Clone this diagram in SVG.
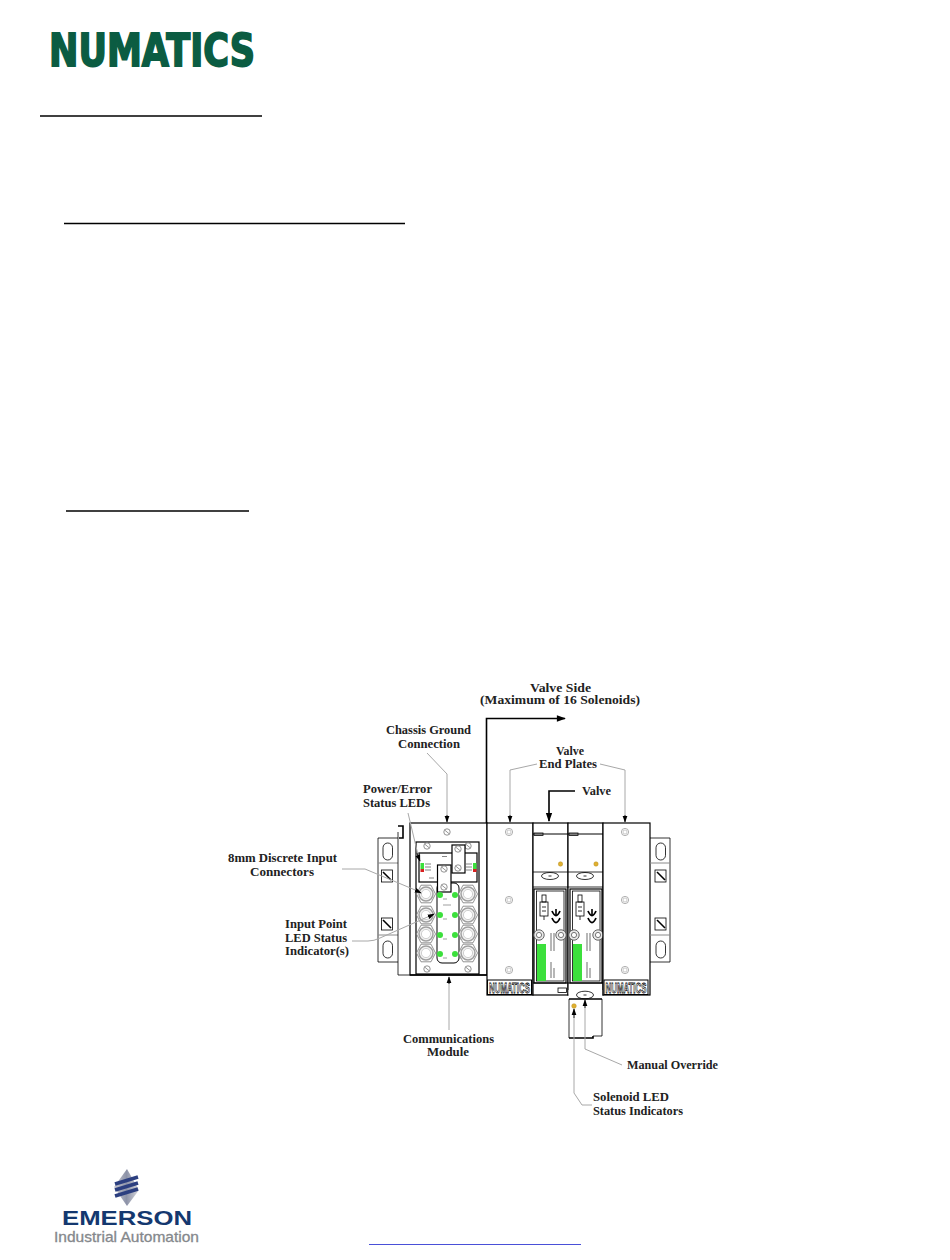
<svg xmlns="http://www.w3.org/2000/svg" width="950" height="1260" viewBox="0 0 950 1260">
<style>
.lb{font-family:"Liberation Serif","Times New Roman",serif;font-weight:bold;font-size:12.5px;fill:#222}
.k{fill:none;stroke:#000;stroke-width:1.6}
.t{fill:none;stroke:#000;stroke-width:.8}
.w{fill:#fff;stroke:#000;stroke-width:1.2}
.ld{fill:none;stroke:#a8a8a8;stroke-width:1}
.bar{stroke:#000;stroke-width:1.4}
.gl{fill:#3ce03c}
.yl{fill:#e0b030;stroke:#b89020;stroke-width:.5}
.sc{fill:#fff;stroke:#999;stroke-width:.8}
.bl{font-family:"Liberation Sans",Arial,sans-serif;font-weight:bold;font-size:15px;fill:#fff;stroke:#000;stroke-width:.8}
.tx{stroke:#8a8a8a;stroke-width:1;fill:none}
</style>
<defs>
<marker id="a" viewBox="0 0 10 10" refX="9" refY="5" markerWidth="7" markerHeight="7" orient="auto" markerUnits="userSpaceOnUse"><path d="M0 1.500L10 5L0 8.500z" fill="#000"/></marker>
<marker id="b" viewBox="0 0 10 10" refX="9" refY="5" markerWidth="11" markerHeight="9" orient="auto" markerUnits="userSpaceOnUse"><path d="M0 1.500L10 5L0 8.500z" fill="#000"/></marker>
<linearGradient id="dm" x1="0" y1="0" x2="1" y2="0"><stop offset="0" stop-color="#c8c8d0"/><stop offset=".5" stop-color="#8d93a8"/><stop offset="1" stop-color="#d8d8dc"/></linearGradient>
<g id="scr"><circle r="3.600" class="sc"/><circle r="2" fill="none" stroke="#aaa" stroke-width=".6"/></g>
<g id="hex"><circle r="3.200" fill="#fff" stroke="#666" stroke-width=".7"/><path d="M-2.200-1.800L2.200 1.800" stroke="#666" stroke-width=".7"/></g>
<g id="con"><path d="M-5-8.800H5L9.500 0L5 8.800H-5L-9.500 0z" fill="#fff" stroke="#666" stroke-width=".7"/><circle r="7" fill="#f2f2f2" stroke="#a0a0a0" stroke-width="1.500"/><circle r="4.600" fill="#fff" stroke="#c4c4c4" stroke-width=".8"/></g>
<g id="bsc"><circle r="5.200" fill="#e8e8e8" stroke="#555" stroke-width=".9"/><circle r="2.600" fill="#fff" stroke="#777" stroke-width="1"/></g>
</defs>

<g id="numatics-logo">
<text x="49" y="65.500" font-family="'DejaVu Sans',Arial,sans-serif" font-weight="bold" font-size="44" fill="#0b5c42" stroke="#0b5c42" stroke-width="1.800" textLength="206" lengthAdjust="spacingAndGlyphs">NUMATICS</text>
</g>

<g id="heading-rules">
<line x1="40" y1="116" x2="262" y2="116" class="bar"/>
<line x1="64" y1="223.500" x2="405" y2="223.500" class="bar"/>
<line x1="66" y1="511" x2="249" y2="511" class="bar"/>
<line x1="369" y1="1244.500" x2="581" y2="1244.500" stroke="#4a50d8" stroke-width="1.200"/>
</g>

<g id="left-mount">
<path d="M398 838H378V962H398" class="t" stroke="#555"/>
<path d="M378 863H398M378 935H398" class="tx"/>
<rect x="383" y="843" width="9.500" height="17" rx="4.700" class="t"/>
<rect x="381.500" y="870" width="11" height="12" class="t"/><path d="M383 872L391 880" class="k" stroke-width="1"/>
<rect x="381.500" y="918" width="11" height="12" class="t"/><path d="M383 920L391 928" class="k" stroke-width="1"/>
<rect x="383" y="941" width="9.500" height="17" rx="4.700" class="t"/>
<path d="M398 832V975H410" class="t"/>
<path d="M398 826H403V838H399" class="k"/>
</g>

<g id="communications-module">
<rect x="410" y="823" width="77" height="152" class="w"/>
<path d="M410 975H487" class="k"/>
<rect x="416" y="842" width="63" height="132" class="w"/>
<use href="#hex" x="447" y="832"/>
<use href="#hex" x="427" y="846"/><use href="#hex" x="468" y="846"/>
<use href="#hex" x="427" y="969"/><use href="#hex" x="468" y="969"/>
<rect x="419" y="853" width="58" height="29" class="w"/>
<rect x="420.500" y="863" width="3.500" height="3" class="gl"/><rect x="420.500" y="866" width="3.500" height="3" class="gl"/><rect x="420.500" y="869" width="3.500" height="3" fill="#d82020"/>
<rect x="473" y="863" width="3.500" height="3" class="gl"/><rect x="473" y="866" width="3.500" height="3" class="gl"/><rect x="473" y="869" width="3.500" height="3" fill="#d82020"/>
<path d="M425 864H431M425 867H431M425 870H431M466 864H472M466 867H472M466 870H472M442 856.500H447M429 878H434" stroke="#666" stroke-width=".8"/>
<rect x="437" y="883" width="22" height="80" rx="5" fill="#fff" stroke="#000"/>
<rect x="452" y="845" width="13" height="28" class="w"/><use href="#hex" x="458" y="849"/><use href="#hex" x="458" y="868"/>
<rect x="437.500" y="865" width="13.500" height="27" class="w"/><use href="#hex" x="444" y="869"/><use href="#hex" x="444" y="887"/>
<use href="#con" x="426" y="894"/><use href="#con" x="468" y="894"/>
<use href="#con" x="426" y="915"/><use href="#con" x="468" y="915"/>
<use href="#con" x="426" y="934"/><use href="#con" x="468" y="934"/>
<use href="#con" x="426" y="953"/><use href="#con" x="468" y="953"/>
<circle cx="440" cy="895" r="3" class="gl"/><circle cx="455" cy="895" r="3" class="gl"/>
<circle cx="440" cy="915" r="3" class="gl"/><circle cx="455" cy="915" r="3" class="gl"/>
<circle cx="440" cy="935" r="3" class="gl"/><circle cx="455" cy="935" r="3" class="gl"/>
<circle cx="440" cy="954" r="3" class="gl"/><circle cx="455" cy="954" r="3" class="gl"/>
<path d="M443 899H447M458 899H461M443 919H447M458 919H461M443 939H447M458 939H461M443 958H447M458 958H461M443 905H451" stroke="#777" stroke-width=".7"/>
</g>

<g id="left-end-plate">
<rect x="487" y="823" width="46" height="172" class="w"/>
<use href="#scr" x="509" y="832"/><use href="#scr" x="509" y="900"/><use href="#scr" x="509" y="970"/>
<rect x="487.500" y="980" width="44" height="14.500" fill="#fff" stroke="#000"/>
<text class="bl" x="489" y="992.800" textLength="41" lengthAdjust="spacingAndGlyphs">NUMATICS</text>
</g>

<g id="valve-1">
<rect x="533" y="823" width="35" height="172" class="w"/>
<path d="M533 834H568" stroke="#000"/><rect x="534" y="833" width="9" height="2.500" class="t"/>
<path d="M533 872H568M533 887H568" class="t"/>
<ellipse cx="550" cy="876" rx="8.500" ry="3.500" class="t"/><path d="M548.500 876H551.500" class="t"/>
<circle cx="560.500" cy="864" r="2.200" class="yl"/>
<rect x="534" y="889" width="32" height="94" class="w"/><rect x="536.500" y="891" width="27.500" height="90" class="t"/>
<rect x="542" y="895" width="4" height="7" class="t"/><rect x="540" y="902" width="8" height="14" class="t"/><path d="M542 907H546M542 911H546M544 916V920" class="t"/>
<path d="M552 911Q556 920 560 911M552 918Q556 927 560 918" fill="none" stroke="#000" stroke-width="1.800"/><path d="M556 909V916" class="k"/>
<rect x="537" y="944" width="9" height="37" class="gl"/>
<path d="M551 933V951M554 933V951M551 962V978M554 968V978" stroke="#888" stroke-width="1.200"/>
<use href="#bsc" x="539" y="935"/><use href="#bsc" x="561" y="935"/>
<path d="M533 983H568" stroke="#000"/><rect x="558" y="988" width="8.500" height="4.500" class="t"/>
</g>

<g id="valve-2">
<rect x="568" y="823" width="35" height="172" class="w"/>
<path d="M568 834H603" stroke="#000"/><rect x="569" y="833" width="9" height="2.500" class="t"/>
<path d="M568 872H603M568 887H603" class="t"/>
<ellipse cx="585" cy="876" rx="8.500" ry="3.500" class="t"/><path d="M583.500 876H586.500" class="t"/>
<circle cx="596" cy="864" r="2.200" class="yl"/>
<rect x="570" y="889" width="32" height="94" class="w"/><rect x="572.500" y="891" width="27.500" height="90" class="t"/>
<rect x="578" y="895" width="4" height="7" class="t"/><rect x="576" y="902" width="8" height="14" class="t"/><path d="M578 907H582M578 911H582M580 916V920" class="t"/>
<path d="M588 911Q592 920 596 911M588 918Q592 927 596 918" fill="none" stroke="#000" stroke-width="1.800"/><path d="M592 909V916" class="k"/>
<rect x="573" y="944" width="9" height="37" class="gl"/>
<path d="M587 933V951M590 933V951M587 962V978M590 968V978" stroke="#888" stroke-width="1.200"/>
<use href="#bsc" x="574" y="935"/><use href="#bsc" x="598" y="935"/>
<path d="M568 983H603" stroke="#000"/>
</g>

<g id="valve-extension">
<rect x="568.500" y="990" width="34" height="9" fill="#fff"/>
<path d="M569 999V1038M602 999V1036H593" class="t"/>
<path d="M569 999H602M569 1038H593V1036" class="k"/>
<ellipse cx="585" cy="995" rx="8.500" ry="3.800" class="t"/><path d="M583.500 995H586.500" class="t"/>
<circle cx="574" cy="1006" r="2.300" class="yl"/>
</g>

<g id="right-end-plate">
<rect x="603" y="823" width="47" height="172" class="w"/>
<use href="#scr" x="625" y="832"/><use href="#scr" x="625" y="900"/><use href="#scr" x="625" y="970"/>
<rect x="604" y="980" width="44" height="14.500" fill="#fff" stroke="#000"/>
<text class="bl" x="605.500" y="992.800" textLength="41" lengthAdjust="spacingAndGlyphs">NUMATICS</text>
</g>

<g id="right-mount">
<path d="M650 838H670V962H650" class="t"/>
<path d="M650 863H670M650 935H670" class="tx"/>
<rect x="656" y="843" width="9.500" height="17" rx="4.700" class="t"/>
<rect x="655" y="870" width="11" height="12" class="t"/><path d="M657 872L665 880" class="k" stroke-width="1"/>
<rect x="655" y="918" width="11" height="12" class="t"/><path d="M657 920L665 928" class="k" stroke-width="1"/>
<rect x="656" y="941" width="9.500" height="17" rx="4.700" class="t"/>
</g>

<g id="connectors">
<path d="M486.500 823V718.500H565" class="k" stroke-width="1.200" marker-end="url(#b)"/>
<path d="M575 791H549V821" class="k" marker-end="url(#b)"/>
<path d="M537 764L510 770V821" class="ld"/><path d="M510 815V822" class="t" marker-end="url(#a)"/>
<path d="M600 764L625 770V821" class="ld"/><path d="M625 815V822" class="t" marker-end="url(#a)"/>
<path d="M427 753L447 774V821" class="ld"/><path d="M447 815V822" class="t" marker-end="url(#a)"/>
<path d="M408 813L419 859" class="ld"/><path d="M417 853L420 861" class="t" marker-end="url(#a)"/>
<path d="M342 869H365L420 892" class="ld"/><path d="M417 891L421 893" class="t" marker-end="url(#a)"/>
<path d="M352 941H368Q374 941 380 938L432 915" class="ld"/><path d="M428 917L434 914" class="t" marker-end="url(#a)"/>
<path d="M449 1030V981" class="ld"/><path d="M449 984V977" class="t" marker-end="url(#a)"/>
<path d="M622 1065L585 1049V1003" class="ld"/><path d="M585 1008V1000" class="t" marker-end="url(#a)"/>
<path d="M592 1105H582L574 1093V1011" class="ld"/><path d="M574 1018V1009" class="t" marker-end="url(#a)"/>
</g>

<g id="labels">
<text class="lb" x="530" y="691.500" textLength="61" lengthAdjust="spacingAndGlyphs">Valve Side</text>
<text class="lb" x="480" y="704" textLength="160" lengthAdjust="spacingAndGlyphs">(Maximum of 16 Solenoids)</text>
<text class="lb" x="386" y="734" textLength="85" lengthAdjust="spacingAndGlyphs">Chassis Ground</text>
<text class="lb" x="398" y="747.500" textLength="62" lengthAdjust="spacingAndGlyphs">Connection</text>
<text class="lb" x="556" y="754.500" textLength="28" lengthAdjust="spacingAndGlyphs">Valve</text>
<text class="lb" x="539" y="767.500" textLength="58" lengthAdjust="spacingAndGlyphs">End Plates</text>
<text class="lb" x="582" y="795" textLength="29" lengthAdjust="spacingAndGlyphs">Valve</text>
<text class="lb" x="363" y="793" textLength="69" lengthAdjust="spacingAndGlyphs">Power/Error</text>
<text class="lb" x="363" y="807" textLength="67" lengthAdjust="spacingAndGlyphs">Status LEDs</text>
<text class="lb" x="228" y="862" textLength="109" lengthAdjust="spacingAndGlyphs">8mm Discrete Input</text>
<text class="lb" x="250" y="875.500" textLength="64" lengthAdjust="spacingAndGlyphs">Connectors</text>
<text class="lb" x="285" y="928" textLength="62" lengthAdjust="spacingAndGlyphs">Input Point</text>
<text class="lb" x="285" y="941.500" textLength="62" lengthAdjust="spacingAndGlyphs">LED Status</text>
<text class="lb" x="285" y="955" textLength="64" lengthAdjust="spacingAndGlyphs">Indicator(s)</text>
<text class="lb" x="403" y="1043" textLength="91" lengthAdjust="spacingAndGlyphs">Communications</text>
<text class="lb" x="427" y="1056" textLength="42" lengthAdjust="spacingAndGlyphs">Module</text>
<text class="lb" x="627" y="1069" textLength="91" lengthAdjust="spacingAndGlyphs">Manual Override</text>
<text class="lb" x="593" y="1101" textLength="76" lengthAdjust="spacingAndGlyphs">Solenoid LED</text>
<text class="lb" x="593" y="1115" textLength="90" lengthAdjust="spacingAndGlyphs">Status Indicators</text>
</g>

<g id="emerson-logo">
<path d="M127 1169L139 1190L127 1206L114 1187z" fill="url(#dm)"/>
<path d="M115 1184L138 1177M115 1190L138 1183M115 1196L138 1189" stroke="#2c3f80" stroke-width="3.600"/>
<text x="62" y="1225" font-family="'Liberation Sans',Arial,sans-serif" font-weight="bold" font-size="21" fill="#14386f" textLength="130" lengthAdjust="spacingAndGlyphs">EMERSON</text>
<text x="54" y="1242" font-family="'Liberation Sans',Arial,sans-serif" font-size="14.500" fill="#85888c" stroke="#85888c" stroke-width=".3" textLength="145" lengthAdjust="spacingAndGlyphs">Industrial Automation</text>
</g>
</svg>
